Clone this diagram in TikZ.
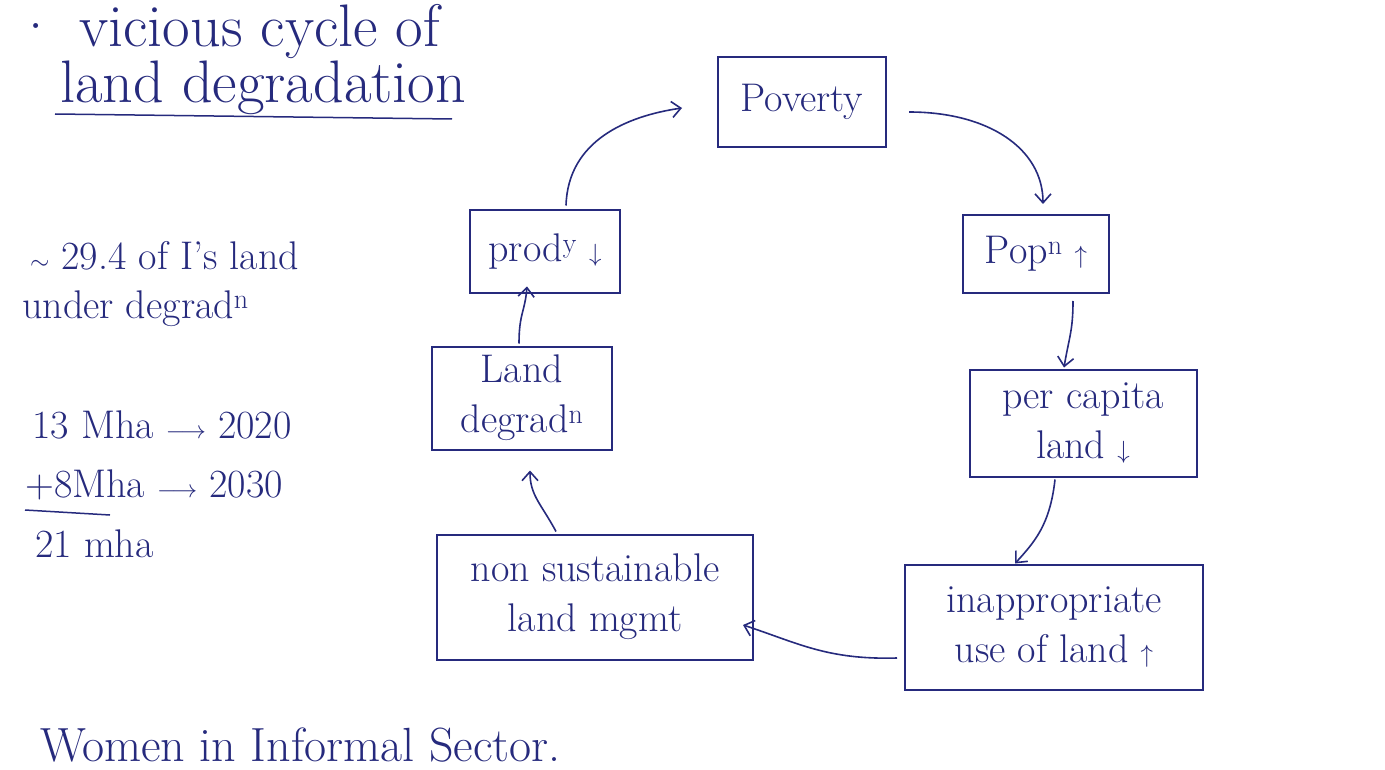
\documentclass[tikz,border=0pt]{standalone}
\usetikzlibrary{arrows.meta}
\definecolor{ink}{RGB}{38,42,125}
\begin{document}
\begin{tikzpicture}[x=1pt,y=-1pt,
  box/.style={draw=ink, line width=2pt, text=ink, align=center, inner sep=0pt,
    font=\fontsize{40}{50}\selectfont},
  flow/.style={draw=ink, line width=1.6pt, -{Straight Barb[length=9pt,width=16pt,line width=1.6pt]}},
  note/.style={text=ink, anchor=base west, inner sep=0pt, font=\fontsize{40}{46}\selectfont},
  title/.style={text=ink, anchor=base west, inner sep=0pt, font=\fontsize{60}{66}\selectfont},
  rule/.style={draw=ink, line width=1.5pt}]
\useasboundingbox[fill=white] (0,0) rectangle (1385,770);

% title
\node[title] (t1) at (14,47) {\textperiodcentered\hspace{22pt}vicious cycle of};
\node[title] (t2) at (60,103) {land degradation};
\draw[rule] (55,114) -- (452,119);

% side notes
\node[note] (n1) at (30,270) {$\sim$ 29.4 of I's land};
\node[note] (n2) at (22,318) {under degrad\textsuperscript{n}};
\node[note] (n3) at (32,438) {13 Mha $\longrightarrow$ 2020};
\node[note] (n4) at (25,497) {+8Mha $\longrightarrow$ 2030};
\draw[rule] (25,510) -- (110,515);
\node[note] (n5) at (35,557) {21 mha};
\node[note, font=\fontsize{48}{54}\selectfont] (n6) at (40,761) {Women in Informal Sector.};

% cycle boxes
\node[box, minimum width=168, minimum height=90] (pov) at (802,102) {Poverty};
\node[box, minimum width=146, minimum height=78] (pop) at (1036,254) {Pop\textsuperscript{n} $\uparrow$};
\node[box, minimum width=227, minimum height=107] (pc) at (1083,423) {per capita\\ land $\downarrow$};
\node[box, minimum width=298, minimum height=125] (inap) at (1054,627) {inappropriate\\ use of land $\uparrow$};
\node[box, minimum width=316, minimum height=125] (nsl) at (595,597) {non sustainable\\ land mgmt};
\node[box, minimum width=180, minimum height=103] (ld) at (522,398) {Land\\ degrad\textsuperscript{n}};
\node[box, minimum width=150, minimum height=83] (prod) at (545,252) {prod\textsuperscript{y} $\downarrow$};

% connectors
\draw[flow] ([xshift=21pt,yshift=4pt]prod.north) .. controls +(2,-65) and +(-55,8) .. ([xshift=-35pt,yshift=-6pt]pov.west);
\draw[flow] ([xshift=22pt,yshift=-10pt]pov.east) .. controls +(80,0) and +(0,-55) .. ([xshift=7pt,yshift=10pt]pop.north);
\draw[flow] ([xshift=37pt,yshift=-7pt]pop.south) .. controls +(0,30) and +(5,-30) .. ([xshift=-19pt,yshift=1pt]pc.north);
\draw[flow] ([xshift=-28pt,yshift=-2pt]pc.south) .. controls +(-5,45) and +(20,-22) .. ([xshift=-39pt]inap.north);
\draw[flow] ([xshift=-7pt,yshift=-31pt]inap.west) .. controls +(-70,2) and +(55,18) .. ([xshift=-11pt,yshift=-28pt]nsl.east);
\draw[flow] ([xshift=-39pt,yshift=2pt]nsl.north) .. controls +(-15,-28) and +(0,25) .. ([xshift=8pt,yshift=-20pt]ld.south);
\draw[flow] ([xshift=-3pt,yshift=2pt]ld.north) .. controls +(0,-30) and +(-2,25) .. ([xshift=-18pt,yshift=8pt]prod.south);
\end{tikzpicture}
\end{document}
